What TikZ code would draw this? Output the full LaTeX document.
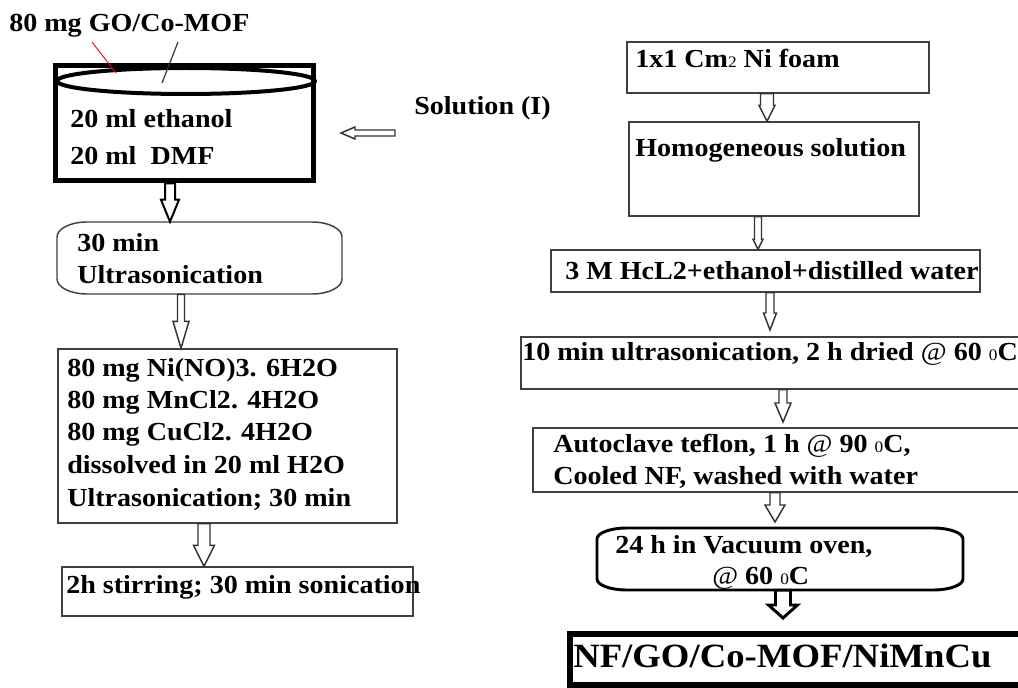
\documentclass[tikz,border=0pt]{standalone}
\usepackage{fontspec}
\setmainfont{Liberation Serif}[FakeStretch=1.08]
\usetikzlibrary{calc,fit}
\newcommand{\smallch}[1]{{\mdseries\fontsize{12}{14}\selectfont #1}}
\tikzset{
  hw/.store in=\hw, hh/.store in=\hh, hl/.store in=\hl,
  hw=4, hh=8, hl=15,
  downarrow/.style={draw=black!80, line width=1.1pt, fill=white, line join=miter,
    to path={($(\tikztostart)+(-\hw,0)$) -- ($(\tikztotarget)+(-\hw,-\hl)$) -- ($(\tikztotarget)+(-\hh,-\hl)$) -- (\tikztotarget) -- ($(\tikztotarget)+(\hh,-\hl)$) -- ($(\tikztotarget)+(\hw,-\hl)$) -- ($(\tikztostart)+(\hw,0)$) -- cycle}},
  leftarrow/.style={draw=black!80, line width=1.1pt, fill=white, line join=miter,
    to path={($(\tikztostart)+(0,-\hw)$) -- ($(\tikztotarget)+(\hl,-\hw)$) -- ($(\tikztotarget)+(\hl,-\hh)$) -- (\tikztotarget) -- ($(\tikztotarget)+(\hl,\hh)$) -- ($(\tikztotarget)+(\hl,\hw)$) -- ($(\tikztostart)+(0,\hw)$) -- cycle}},
  thinbox/.style={draw=black!75, line width=1.1pt, inner sep=0pt},
  plainfit/.style={inner sep=0pt},
  canline/.style={draw=black!75, line width=1.1pt},
  txt/.style={anchor=base west, inner sep=0pt, font=\fontsize{19.5}{23}\selectfont\bfseries},
}
\begin{document}
\begin{tikzpicture}[x=0.75pt,y=-0.75pt]
\useasboundingbox (0,0) rectangle (1018,688);
\clip (0,0) rectangle (1018,688);

% ---------------- left column ----------------
\node[txt] (t0) at (9,32) {80 mg GO/Co-MOF};
\node[plainfit, draw=black, line width=3.75pt, fit={(55.5,66) (313.5,181)}] (cyl) {};
\draw[line width=3pt] (186,81) ellipse [x radius=129, y radius=13];
\coordinate (p1) at (92,42);
\coordinate (p2) at (116,73);
\coordinate (q1) at (178,42);
\coordinate (q2) at (162,83);
\draw[red, line width=0.7pt] (p1) -- (p2);
\draw[black!80, line width=0.9pt] (q1) -- (q2);
\node[txt] (c1) at (70,128) {20 ml ethanol};
\node[txt] (c2) at (70,165) {20 ml~ DMF};

\node[txt] (sol) at (414,115) {Solution (I)};
\coordinate (sols) at (395,133);
\coordinate (solt) at (341,133);
\draw[leftarrow, hw=3, hh=6, hl=14] (sols) to (solt);

\node[plainfit, fit={(57,222) (342,294)}] (u) {};
\draw[canline] (57,237) .. controls (57,228.7) and (70.4,222) .. (87,222) -- (312,222) .. controls (328.6,222) and (342,228.7) .. (342,237) -- (342,279) .. controls (342,287.3) and (328.6,294) .. (312,294) -- (87,294) .. controls (70.4,294) and (57,287.3) .. (57,279) -- cycle;
\node[txt] (u1) at (77,252) {30 min};
\node[txt] (u2) at (77,283) {Ultrasonication};

\draw[downarrow, line width=1.5pt, draw=black, hw=5, hh=9, hl=22] (cyl.south -| 170,0) to (u.north -| 170,0);

\node[thinbox, fit={(58,349) (397,523)}] (b3) {};
\node[txt] (b31) at (67,376) {80 mg Ni(NO)3. 6H2O};
\node[txt] (b32) at (67,408) {80 mg MnCl2. 4H2O};
\node[txt] (b33) at (67,440) {80 mg CuCl2. 4H2O};
\node[txt] (b34) at (67,473) {dissolved in 20 ml H2O};
\node[txt] (b35) at (67,506) {Ultrasonication; 30 min};

\draw[downarrow, hw=3.5, hh=8, hl=27] (u.south -| 181,0) to (b3.north -| 181,0);

\node[thinbox, fit={(62,567) (413,616)}] (b4) {};
\node[txt] (b41) at (66,593) {2h stirring; 30 min sonication};

\draw[downarrow, hw=6, hh=10.5, hl=21] (b3.south -| 204,0) to (b4.north -| 204,0);

% ---------------- right column ----------------
\node[thinbox, fit={(627,42) (929,93)}] (r1) {};
\node[txt] (r1t) at (635,68) {1x1 Cm\smallch{2} Ni foam};
\node[thinbox, fit={(629,122) (919,216)}] (r2) {};
\node[txt] (r2t) at (635,157) {Homogeneous solution};
\node[thinbox, fit={(551,250) (980,292)}] (r3) {};
\node[txt] (r3t) at (565,280) {3 M HcL2+ethanol+distilled water};
\node[thinbox, fit={(521,337) (1040,389)}] (r4) {};
\node[txt] (r4t) at (522,360) {10 min ultrasonication, 2 h dried \textmd{@} 60 \smallch{0}C};
\node[thinbox, fit={(533,428) (1040,492)}] (r5) {};
\node[txt] (r5a) at (553,452) {Autoclave teflon, 1 h \textmd{@} 90 \smallch{0}C,};
\node[txt] (r5b) at (553,484) {Cooled NF, washed with water};

\node[plainfit, fit={(597,528) (963,590)}] (v) {};
\draw[draw=black, line width=2.2pt] (597,539) .. controls (597,532.9) and (610.4,528) .. (627,528) -- (933,528) .. controls (949.6,528) and (963,532.9) .. (963,539) -- (963,579) .. controls (963,585.1) and (949.6,590) .. (933,590) -- (627,590) .. controls (610.4,590) and (597,585.1) .. (597,579) -- cycle;
\node[txt] (v1) at (615,553) {24 h in Vacuum oven,};
\node[txt] (v2) at (712,584) {\textmd{@} 60 \smallch{0}C};

\node[plainfit, draw=black, line width=4.5pt, fit={(570,633.5) (1040,684.5)}] (r7) {};
\node[txt, font=\fontsize{25.5}{29}\selectfont\bfseries] (r7t) at (573,667) {NF/GO/Co-MOF/NiMnCu};

\coordinate (ra3t) at (770,330);
\coordinate (ra4t) at (783,422);
\coordinate (ra5t) at (775,522);
\coordinate (ra6t) at (783,618);
\draw[downarrow, hw=6.5, hh=8, hl=16] (r1.south -| 767,0) to (r2.north -| 767,0);
\draw[downarrow, hw=3.5, hh=5, hl=10] (r2.south -| 758,0) to (r3.north -| 758,0);
\draw[downarrow, hw=4, hh=6.5, hl=17] (r3.south -| 770,0) to (ra3t);
\draw[downarrow, hw=4, hh=8, hl=19] (r4.south -| 783,0) to (ra4t);
\draw[downarrow, hw=5, hh=10, hl=17] (r5.south -| 775,0) to (ra5t);
\draw[downarrow, draw=black, line width=2.2pt, hw=7.5, hh=14.5, hl=13] (v.south -| 783,0) to (ra6t);
\end{tikzpicture}
\end{document}
